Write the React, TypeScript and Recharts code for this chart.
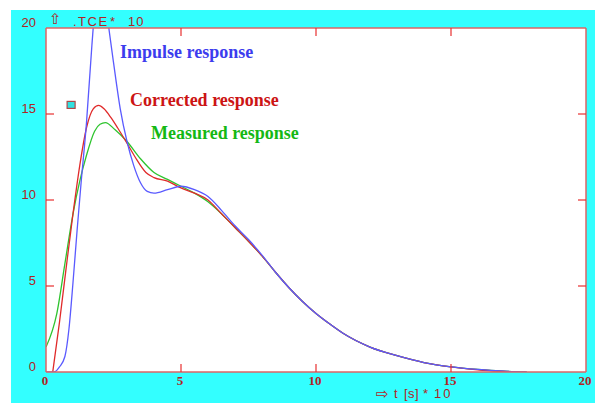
import React from "react";
import { LineChart, Line, XAxis, YAxis, ReferenceDot } from "recharts";

// Impulse response (blue)
const impulseT = [0, 0.3, 0.5, 0.7, 0.85, 1.0, 1.15, 1.3, 1.5, 1.7, 1.85, 2.0, 2.15, 2.3, 2.5, 2.75, 3.0, 3.25, 3.5, 3.75, 4.0, 4.5, 5.0, 5.5, 6.0, 6.5, 7.0, 7.5, 8.0, 8.5, 9.0, 9.5, 10, 10.5, 11, 12, 13, 14, 15, 16, 17, 17.8];
const impulseV = [0, 0, 0.3, 0.9, 2.5, 5.2, 8.2, 11.0, 14.5, 19.0, 21.8, 22.8, 22.2, 20.3, 18.0, 15.3, 13.4, 12.0, 11.0, 10.5, 10.4, 10.6, 10.8, 10.6, 10.2, 9.4, 8.5, 7.7, 6.8, 5.8, 4.9, 4.1, 3.4, 2.8, 2.25, 1.45, 0.95, 0.55, 0.3, 0.15, 0.05, 0];

// Corrected response (red)
const correctedT = [0.25, 0.5, 0.75, 1.0, 1.25, 1.5, 1.75, 1.95, 2.15, 2.4, 2.65, 3.0, 3.3, 3.7, 4.0, 4.5, 5.0, 5.5, 6.0, 6.5, 7.0, 7.5, 8.0, 8.5, 9, 9.5, 10, 10.5, 11, 12, 13, 14, 15, 16, 17.3];
const correctedV = [0, 2.9, 6.1, 9.2, 12.0, 14.2, 15.3, 15.5, 15.3, 14.8, 14.2, 13.3, 12.5, 11.6, 11.3, 11.1, 10.7, 10.4, 10.0, 9.2, 8.4, 7.6, 6.75, 5.8, 4.9, 4.1, 3.4, 2.8, 2.25, 1.45, 0.95, 0.55, 0.3, 0.13, 0];

// Measured response (green)
const measuredT = [0, 0.4, 0.7, 1.0, 1.25, 1.5, 1.8, 2.0, 2.2, 2.55, 3.0, 3.5, 4.0, 4.5, 5.0, 5.5, 6.0, 6.5, 7.0, 7.5, 8.0, 8.5, 9, 9.5, 10, 10.5, 11, 12, 13, 14, 15, 16, 17, 17.8];
const measuredV = [1.45, 3.4, 6.3, 9.2, 11.1, 12.6, 14.0, 14.4, 14.5, 14.1, 13.4, 12.4, 11.6, 11.2, 10.8, 10.4, 9.9, 9.2, 8.4, 7.6, 6.75, 5.8, 4.9, 4.1, 3.4, 2.8, 2.25, 1.45, 0.95, 0.55, 0.3, 0.15, 0.05, 0];

const axisTicks = [0, 5, 10, 15, 20];
const markerPoint = { t: 0.93, v: 15.5 };

const impulseData = impulseT.map((t, i) => ({ t, v: impulseV[i] }));
const correctedData = correctedT.map((t, i) => ({ t, v: correctedV[i] }));
const measuredData = measuredT.map((t, i) => ({ t, v: measuredV[i] }));

const TICK_RED = "#e83030";
const LABEL_RED = "#b02424";
const FRAME = "#dc6464";
const TL = 8;
const PLOT_W = 540;
const PLOT_H = 344;

const LeftTick = (p: any) => {
  const v = p.payload.value;
  const inner = v > 0 && v < 20;
  return (
    <g>
      {inner && <path d={`M${p.x},${p.y}h${TL}`} stroke={TICK_RED} strokeWidth={1.2} fill="none" />}
      {inner && <path d={`M${p.x + PLOT_W},${p.y}h${-TL}`} stroke={TICK_RED} strokeWidth={1.2} fill="none" />}
      <text x={p.x - 10} y={p.y - 1} textAnchor="end" fontFamily="Liberation Sans, sans-serif" fontSize={13} fill={LABEL_RED}>{v}</text>
    </g>
  );
};
const BottomTick = (p: any) => {
  const v = p.payload.value;
  const inner = v > 0 && v < 20;
  return (
    <g>
      {inner && <path d={`M${p.x},${p.y}v${-TL}`} stroke={TICK_RED} strokeWidth={1.2} fill="none" />}
      {inner && <path d={`M${p.x},${p.y - PLOT_H}v${TL}`} stroke={TICK_RED} strokeWidth={1.2} fill="none" />}
      <text x={p.x - 1} y={p.y + 13} textAnchor="middle" fontFamily="Liberation Serif, serif" fontWeight="bold" fontSize={13} fill={LABEL_RED}>{v}</text>
    </g>
  );
};

const SquareMarker = (p: any) => (
  <rect x={p.cx - 4} y={p.cy - 4} width={8} height={7} fill="#30e0e0" stroke="#b04848" strokeWidth={1.2} />
);

export default function App() {
  return (
    <div style={{ position: "absolute", left: 0, top: 0, width: 595, height: 403, background: "#ffffff", overflow: "hidden" }}>
      <div style={{ position: "absolute", left: 11, top: 10, width: 584, height: 393, background: "#33ffff" }} />
      <div style={{ position: "absolute", left: 46, top: 28, width: 540, height: 344, background: "#ffffff" }} />
      <div style={{ position: "absolute", left: 0, top: 0 }}>
        <LineChart width={595} height={403} margin={{ top: 27, right: 8, bottom: 1, left: 11 }}>
          <XAxis xAxisId="b" type="number" dataKey="t" domain={[0, 20]} ticks={axisTicks} interval={0}
            height={30} tickSize={0} tickMargin={0} tick={<BottomTick />} axisLine={{ stroke: FRAME, strokeWidth: 1.5 }} allowDataOverflow />
          <XAxis xAxisId="top" orientation="top" type="number" dataKey="t" domain={[0, 20]}
            height={1} tick={false} tickLine={false} axisLine={{ stroke: FRAME, strokeWidth: 1.5 }} />
          <YAxis yAxisId="l" type="number" domain={[0, 20]} ticks={axisTicks} interval={0}
            width={35} tickSize={0} tickMargin={0} tick={<LeftTick />} axisLine={{ stroke: FRAME, strokeWidth: 1.5 }} allowDataOverflow />
          <YAxis yAxisId="r" orientation="right" type="number" domain={[0, 20]}
            width={1} tick={false} tickLine={false} axisLine={{ stroke: FRAME, strokeWidth: 1.5 }} />
          <Line xAxisId="b" yAxisId="l" data={measuredData} dataKey="v" type="monotone" stroke="#2ec42e" strokeWidth={1.3} dot={false} isAnimationActive={false} />
          <Line xAxisId="b" yAxisId="l" data={correctedData} dataKey="v" type="monotone" stroke="#e02a2a" strokeWidth={1.3} dot={false} isAnimationActive={false} />
          <Line xAxisId="b" yAxisId="l" data={impulseData} dataKey="v" type="monotone" stroke="#5a5aff" strokeWidth={1.3} dot={false} isAnimationActive={false} />
          <ReferenceDot xAxisId="b" yAxisId="l" x={markerPoint.t} y={markerPoint.v} shape={<SquareMarker />} />
        </LineChart>
      </div>
      <svg width={595} height={403} style={{ position: "absolute", left: 0, top: 0, pointerEvents: "none" }}>
        <g fill={LABEL_RED}>
          <text x={49} y={24} fontFamily="DejaVu Sans, sans-serif" fontSize={15}>⇧</text>
          <text x={73} y={26} fontFamily="Liberation Sans, sans-serif" fontSize={13} letterSpacing={1.5}>.TCE</text>
          <text x={110} y={26} fontFamily="Liberation Sans, sans-serif" fontSize={13}>*</text>
          <text x={128} y={26} fontFamily="Liberation Sans, sans-serif" fontSize={13} letterSpacing={1}>10</text>
          <text x={376} y={399} fontFamily="DejaVu Sans, sans-serif" fontSize={15}>⇨</text>
          <text x={394} y={398} fontFamily="Liberation Sans, sans-serif" fontSize={13}>t</text>
          <text x={404} y={398} fontFamily="Liberation Sans, sans-serif" fontSize={13} letterSpacing={0.5}>[s]</text>
          <text x={423} y={398} fontFamily="Liberation Sans, sans-serif" fontSize={13}>*</text>
          <text x={434} y={398} fontFamily="Liberation Sans, sans-serif" fontSize={13} letterSpacing={2}>10</text>
        </g>
        <g fontFamily="Liberation Serif, serif" fontWeight="bold" fontSize={18}>
          <text x={120} y={58} fill="#3c3cee">Impulse response</text>
          <text x={130} y={106} fill="#cc1414">Corrected response</text>
          <text x={151} y={139} fill="#14b814">Measured response</text>
        </g>
      </svg>
    </div>
  );
}
